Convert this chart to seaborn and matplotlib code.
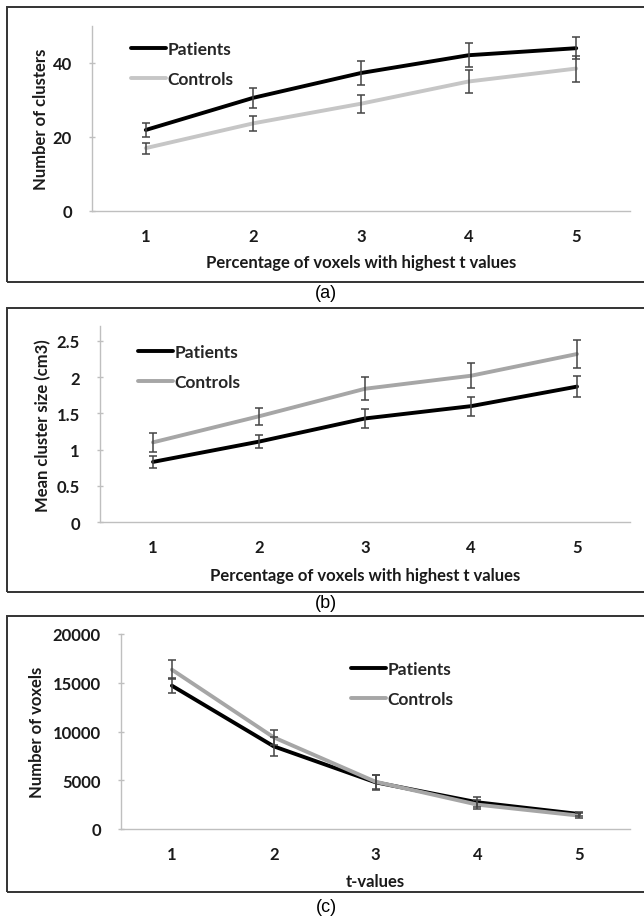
import matplotlib
matplotlib.use("Agg")
import matplotlib.pyplot as plt
import seaborn as sns
import pandas as pd
from matplotlib.patches import Rectangle
from matplotlib.lines import Line2D

sns.set_theme(style="white")
plt.rcParams['font.family'] = ['Lato', 'DejaVu Sans']

x_pct = [1, 2, 3, 4, 5]
groups = ["Patients", "Controls"]

# (a) Number of clusters
a_pat = [21.9, 30.6, 37.3, 42.1, 44.0]
a_pat_err = [2.0, 2.7, 3.2, 3.3, 3.0]
a_con = [17.0, 23.7, 29.0, 35.0, 38.5]
a_con_err = [1.5, 2.0, 2.4, 3.1, 3.5]

# (b) Mean cluster size
b_pat = [0.83, 1.11, 1.43, 1.60, 1.87]
b_pat_err = [0.08, 0.085, 0.135, 0.13, 0.14]
b_con = [1.10, 1.46, 1.84, 2.02, 2.32]
b_con_err = [0.13, 0.12, 0.16, 0.17, 0.20]

# (c) Number of voxels
c_pat = [14700, 8480, 4790, 2740, 1540]
c_pat_err = [800, 1000, 750, 500, 250]
c_con = [16340, 9400, 4850, 2500, 1370]
c_con_err = [1000, 800, 700, 450, 230]

fig = plt.figure(figsize=(6.44, 9.2), dpi=100)
W, H = 644.0, 920.0

def fx(px):
    return px / W

def fy(py):
    return 1 - py / H

# panel boxes
for top, bot in [(8, 283), (309, 593), (617, 893)]:
    fig.add_artist(Rectangle((fx(7), fy(bot)), 1.2, fy(top) - fy(bot),
                             transform=fig.transFigure, fill=False,
                             edgecolor="#333333", linewidth=1.4))

FS = 12
panels = [
    dict(rect=(92, 27, 630, 212), pat=a_pat, pe=a_pat_err, con=a_con, ce=a_con_err,
         ylim=(0, 50), yticks=[0, 20, 40], yfmt=lambda v: f"{v:g}",
         ylabel="Number of clusters", xlabel="Percentage of voxels with highest t values",
         ylab_x=41, xlab_y=263,
         con_color="#c6c6c6", leg=(131, 42), caption=("(a)", 293)),
    dict(rect=(100, 327.5, 630, 523), pat=b_pat, pe=b_pat_err, con=b_con, ce=b_con_err,
         ylim=(0, 2.7), yticks=[0, 0.5, 1, 1.5, 2, 2.5], yfmt=lambda v: f"{v:g}",
         ylabel="Mean cluster size (cm3)", xlabel="Percentage of voxels with highest t values",
         ylab_x=43, xlab_y=576,
         con_color="#a6a6a6", leg=(138, 345), caption=("(b)", 603)),
    dict(rect=(121, 635, 630, 830), pat=c_pat, pe=c_pat_err, con=c_con, ce=c_con_err,
         ylim=(0, 20000), yticks=[0, 5000, 10000, 15000, 20000], yfmt=lambda v: f"{int(v)}",
         ylabel="Number of voxels", xlabel="t-values",
         ylab_x=37, xlab_y=882,
         con_color="#a6a6a6", leg=(351, 662), caption=("(c)", 908)),
]

for p in panels:
    l, t, r, b = p["rect"]
    ax = fig.add_axes([fx(l), fy(b), fx(r) - fx(l), fy(t) - fy(b)])
    df = pd.DataFrame({
        "x": x_pct * 2,
        "y": p["pat"] + p["con"],
        "group": ["Patients"] * 5 + ["Controls"] * 5,
    })
    palette = {"Patients": "black", "Controls": p["con_color"]}
    sns.lineplot(data=df, x="x", y="y", hue="group", hue_order=groups,
                 palette=palette, linewidth=2.8, ax=ax, legend=False, zorder=3)
    ax.errorbar(x_pct, p["con"], yerr=p["ce"], fmt="none", ecolor="#444444",
                elinewidth=1.1, capsize=2.8, capthick=1.1, zorder=4)
    ax.errorbar(x_pct, p["pat"], yerr=p["pe"], fmt="none", ecolor="#444444",
                elinewidth=1.1, capsize=2.8, capthick=1.1, zorder=4)
    ax.set_xlim(0.5, 5.5)
    ax.set_ylim(*p["ylim"])
    ax.set_xticks(x_pct)
    ax.set_xticklabels([str(v) for v in x_pct])
    ax.set_yticks(p["yticks"])
    ax.set_yticklabels([p["yfmt"](v) for v in p["yticks"]])
    for s in ["top", "right"]:
        ax.spines[s].set_visible(False)
    for s in ["left", "bottom"]:
        ax.spines[s].set_color("#bfbfbf")
        ax.spines[s].set_linewidth(1.0)
    ax.tick_params(axis="y", which="major", direction="inout", length=5, width=1.0,
                   color="#bfbfbf", left=True, labelsize=FS, pad=12)
    ax.tick_params(axis="x", length=0, labelsize=FS, pad=12)
    for lab in ax.get_xticklabels() + ax.get_yticklabels():
        lab.set_fontweight("bold")
        lab.set_color("#1a1a1a")
    ax.set_xlabel(p["xlabel"], fontsize=FS, fontweight="bold", color="#1a1a1a")
    ax.set_ylabel(p["ylabel"], fontsize=FS, fontweight="bold", color="#1a1a1a")
    ax.xaxis.set_label_coords(fx((l + r) / 2), fy(p["xlab_y"]), transform=fig.transFigure)
    ax.xaxis.label.set_va("center")
    ax.yaxis.set_label_coords(fx(p["ylab_x"]), fy((t + b) / 2), transform=fig.transFigure)
    ax.yaxis.label.set_va("center")
    ax.patch.set_alpha(0)

    handles = [Line2D([], [], color="black", lw=2.8),
               Line2D([], [], color=p["con_color"], lw=2.8)]
    lx, ly = p["leg"]
    fig.legend(handles, groups, loc="upper left", bbox_to_anchor=(fx(lx), fy(ly)),
               frameon=False, handlelength=2.0, handletextpad=0.1, labelspacing=0.8,
               borderpad=0, borderaxespad=0,
               prop={"family": ["Lato", "DejaVu Sans"], "weight": "bold", "size": FS + 0.5})

    cap, cy = p["caption"]
    fig.text(fx(326), fy(cy), cap, ha="center", va="center", fontsize=13,
             family=["Liberation Sans", "DejaVu Sans"], color="black")

fig.savefig("out.png", dpi=100)
